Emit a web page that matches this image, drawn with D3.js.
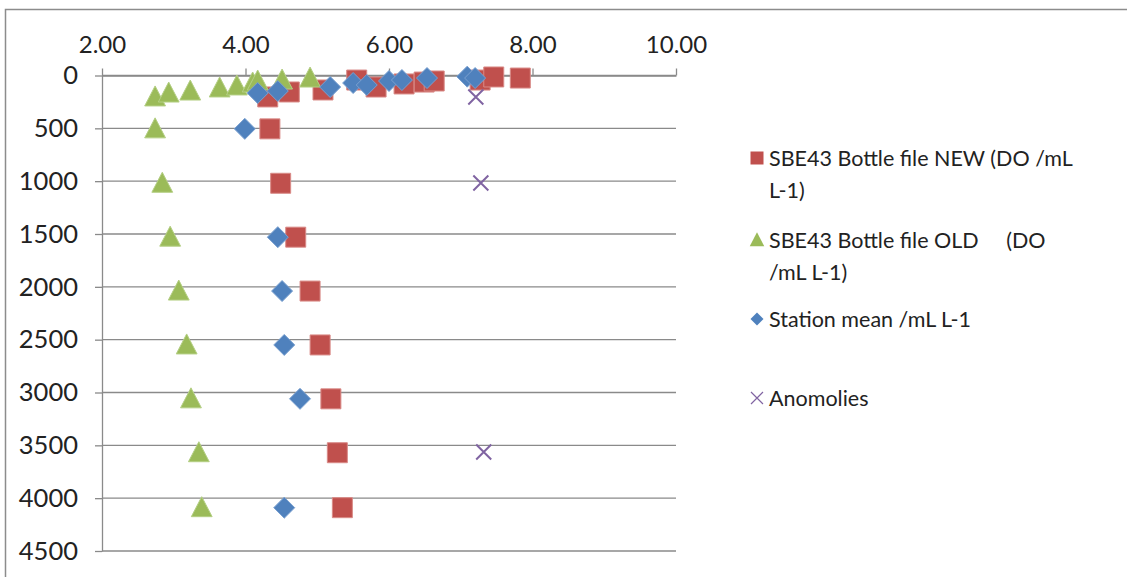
<!DOCTYPE html>
<html>
<head>
<meta charset="utf-8">
<script src="https://cdn.jsdelivr.net/npm/d3@7"></script>
<style>
  html, body { margin: 0; padding: 0; background: #fff; }
  svg { display: block; }
  text { font-family: Lato, "Open Sans", sans-serif; fill: #222; }
</style>
</head>
<body>
<svg id="chart" width="1127" height="577"></svg>
<script>
// ---- data (DO in mL/L vs depth) ----
const newDO    = [4.31, 4.61, 5.08, 5.55, 5.82, 6.21, 6.49, 6.63, 7.27, 7.46, 7.83, 4.34, 4.49, 4.70, 4.90, 5.04, 5.19, 5.28, 5.35];
const newDepth = [203, 156, 137, 43, 109, 80, 62, 52, 43, 14, 24, 505, 1020, 1530, 2040, 2550, 3060, 3570, 4090];

const oldDO    = [2.74, 2.93, 3.23, 3.64, 3.88, 4.10, 4.17, 4.51, 4.90, 2.74, 2.84, 2.95, 3.07, 3.18, 3.24, 3.35, 3.39];
const oldDepth = [203, 166, 147, 118, 99, 71, 52, 43, 24, 505, 1020, 1530, 2040, 2550, 3060, 3570, 4090];

const meanDO    = [4.17, 4.45, 5.18, 5.50, 5.69, 6.00, 6.18, 6.53, 7.09, 7.20, 3.99, 4.45, 4.51, 4.54, 4.76, 4.54];
const meanDepth = [166, 147, 109, 71, 90, 52, 43, 24, 11, 24, 505, 1530, 2040, 2550, 3060, 4090];

const anomDO    = [7.21, 7.28, 7.32];
const anomDepth = [203, 1017, 3563];

const xTicks = [2, 4, 6, 8, 10];
const yTicks = [0, 500, 1000, 1500, 2000, 2500, 3000, 3500, 4000, 4500];

const legendLabels = [
  ["SBE43 Bottle file NEW (DO /mL", "L-1)"],
  ["SBE43 Bottle file OLD     (DO", "/mL L-1)"],
  ["Station mean /mL L-1"],
  ["Anomolies"]
];

// ---- drawing ----
const svg = d3.select("#chart");
const x = d3.scaleLinear().domain([2, 10]).range([102, 676]);
const y = d3.scaleLinear().domain([0, 4500]).range([75.5, 551]);

const colNew = "#C0504D", colOld = "#9BBB59", colMean = "#4F81BD", colAnom = "#8064A2";
const fontFam = "Lato, 'Open Sans', sans-serif";

// outer border
svg.append("rect").attr("x", 5.5).attr("y", 9.5).attr("width", 1130).attr("height", 580)
  .attr("fill", "none").attr("stroke", "#8c8c8c").attr("stroke-width", 1.5);

// gridlines
svg.append("g").selectAll("line").data(yTicks).join("line")
  .attr("x1", x(2)).attr("x2", x(10))
  .attr("y1", d => y(d)).attr("y2", d => y(d))
  .attr("stroke", "#8a8a8a").attr("stroke-width", 1.3);

// x axis (top)
const xAxis = d3.axisTop(x).tickValues(xTicks).tickFormat(d3.format(".2f"))
  .tickSizeInner(7).tickSizeOuter(0).tickPadding(16);
const gx = svg.append("g").attr("transform", `translate(0,${y(0)})`).call(xAxis);
gx.select(".domain").attr("stroke", "#8a8a8a").attr("stroke-width", 1.3);
gx.selectAll(".tick line").attr("stroke", "#8a8a8a").attr("stroke-width", 1.3);
gx.selectAll(".tick text").style("font-size", "24px").style("font-family", fontFam).attr("fill", "#222");

// y axis (left)
const yAxis = d3.axisLeft(y).tickValues(yTicks).tickFormat(d3.format("d"))
  .tickSizeInner(7).tickSizeOuter(0).tickPadding(17);
const gy = svg.append("g").attr("transform", `translate(${x(2)},0)`).call(yAxis);
gy.select(".domain").attr("stroke", "#8a8a8a").attr("stroke-width", 1.3);
gy.selectAll(".tick line").attr("stroke", "#8a8a8a").attr("stroke-width", 1.3);
gy.selectAll(".tick text").style("font-size", "25.5px").style("font-family", fontFam).attr("fill", "#222");

// marker path builders
const sq = s => `M${-s/2},${-s/2}h${s}v${s}h${-s}Z`;
const tri = s => `M0,${-s*0.55}L${s*0.52},${s*0.45}L${-s*0.52},${s*0.45}Z`;
const dia = s => `M0,${-s/2}L${s/2},0L0,${s/2}L${-s/2},0Z`;
const cross = s => `M${-s/2},${-s/2}L${s/2},${s/2}M${s/2},${-s/2}L${-s/2},${s/2}`;

function series(xs, ys, pathFn, size, fill, stroke, sw) {
  svg.append("g").selectAll("path").data(xs.map((v, i) => [v, ys[i]])).join("path")
    .attr("transform", d => `translate(${x(d[0])},${y(d[1])})`)
    .attr("d", pathFn(size))
    .attr("fill", fill).attr("stroke", stroke).attr("stroke-width", sw);
}
series(newDO, newDepth, sq, 20, colNew, "#d98a87", 1);
series(oldDO, oldDepth, tri, 20, colOld, "#b4cf84", 1);
series(meanDO, meanDepth, dia, 21, colMean, "#7aa0d0", 1);
series(anomDO, anomDepth, cross, 15, "none", colAnom, 2);

// legend
const lg = svg.append("g");
const legendY = [158, 240, 319, 398];
const legendMarks = [
  {p: sq(13), fill: colNew, stroke: "none", sw: 0},
  {p: tri(14), fill: colOld, stroke: "none", sw: 0},
  {p: dia(13), fill: colMean, stroke: "none", sw: 0},
  {p: cross(12), fill: "none", stroke: colAnom, sw: 1.2}
];
legendLabels.forEach((lines, i) => {
  const m = legendMarks[i];
  lg.append("path").attr("transform", `translate(757,${legendY[i]})`).attr("d", m.p)
    .attr("fill", m.fill).attr("stroke", m.stroke).attr("stroke-width", m.sw);
  lines.forEach((t, j) => {
    lg.append("text").attr("x", 769).attr("y", legendY[i] + j * 32).attr("dy", "0.35em")
      .style("font-size", "21.5px").style("white-space", "pre").attr("xml:space", "preserve").text(t);
  });
});
</script>
</body>
</html>
